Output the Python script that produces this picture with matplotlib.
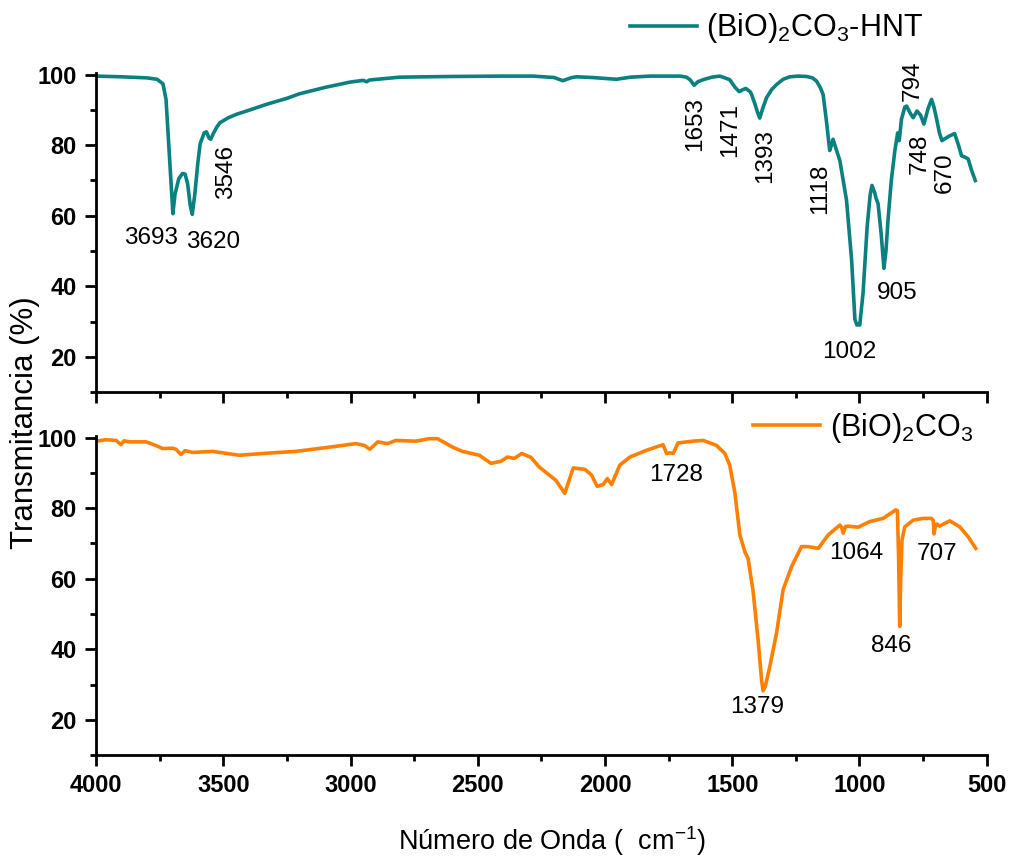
import matplotlib.pyplot as plt
from matplotlib.ticker import MultipleLocator

plt.rcParams["font.family"] = ["Liberation Sans", "DejaVu Sans"]
plt.rcParams["mathtext.default"] = "regular"

# (BiO)2CO3-HNT spectrum (wavenumber, transmittance)
wn_hnt = [4000, 3900, 3800, 3760, 3737, 3725, 3710, 3698, 3690, 3675, 3660, 3650,
          3640, 3630, 3622, 3612, 3600, 3591, 3575, 3566, 3556, 3549, 3540, 3525,
          3513, 3480, 3447, 3400, 3330, 3250, 3200, 3100, 3002, 2950, 2937, 2925, 2806,
          2600, 2400, 2283, 2200, 2166, 2130, 2112, 2050, 1955, 1900, 1822, 1705,
          1680, 1665, 1650, 1635, 1614, 1580, 1549, 1510, 1490, 1473, 1460, 1447,
          1430, 1424, 1410, 1400, 1392, 1380, 1365, 1345, 1326, 1300, 1274, 1240,
          1208, 1185, 1169, 1155, 1143, 1130, 1117, 1108, 1104, 1090, 1077, 1051,
          1031, 1018, 1010, 1005, 999, 986, 970, 958, 951, 940, 935, 927, 915, 904,
          896, 888, 875, 861, 850, 844, 835, 822, 815, 800, 789, 774, 760, 747, 730,
          717, 708, 698, 686, 676, 650, 626, 610, 599, 585, 573, 560, 545]
t_hnt = [99.6, 99.4, 99.1, 98.7, 97.4, 93.0, 75.0, 60.6, 66.0, 70.5, 72.0, 71.8,
         69.0, 63.0, 60.4, 66.0, 75.0, 80.4, 83.5, 83.8, 82.0, 81.7, 83.2, 85.2,
         86.4, 87.8, 88.8, 89.9, 91.6, 93.3, 94.6, 96.4, 97.9, 98.4, 98.0, 98.5, 99.3,
         99.5, 99.6, 99.6, 99.2, 98.3, 99.2, 99.4, 99.2, 98.7, 99.3, 99.6, 99.6,
         99.3, 98.5, 97.0, 98.0, 98.6, 99.3, 99.6, 98.6, 96.5, 95.2, 95.7, 96.1,
         95.2, 94.4, 91.5, 89.2, 87.7, 90.5, 93.5, 95.8, 97.2, 98.7, 99.4, 99.6,
         99.5, 99.1, 98.2, 96.5, 94.4, 86.9, 78.5, 80.5, 81.7, 78.5, 75.6, 64.4,
         47.5, 30.6, 29.0, 29.3, 29.0, 38.1, 56.8, 66.0, 68.6, 66.5, 65.0, 63.4,
         55.0, 45.1, 50.0, 58.7, 70.0, 78.5, 83.5, 81.3, 87.4, 90.8, 91.1, 89.0,
         87.8, 89.7, 88.5, 86.0, 90.5, 93.0, 91.0, 87.8, 83.5, 81.3, 82.5, 83.3,
         79.8, 77.0, 76.6, 76.1, 73.0, 70.0]

# (BiO)2CO3 spectrum
wn_bio = [4000, 3960, 3921, 3902, 3890, 3869, 3804, 3784, 3760, 3738, 3700, 3686,
          3666, 3650, 3620, 3542, 3437, 3345, 3214, 3083, 2979, 2946, 2924, 2893,
          2854, 2822, 2743, 2691, 2658, 2599, 2560, 2494, 2448, 2409, 2383, 2357,
          2327, 2291, 2259, 2193, 2158, 2125, 2079, 2053, 2031, 2007, 1991, 1974,
          1942, 1902, 1837, 1772, 1758, 1745, 1732, 1713, 1654, 1614, 1562, 1529,
          1510, 1490, 1470, 1450, 1438, 1418, 1398, 1385, 1379, 1370, 1352, 1326,
          1300, 1267, 1228, 1202, 1162, 1123, 1077, 1070, 1064, 1055, 1045, 1005,
          960, 907, 858, 851, 846, 842, 838, 833, 822, 789, 750, 717, 710, 707, 701,
          695, 685, 678, 645, 606, 573, 543]
t_bio = [99.0, 99.4, 99.2, 98.0, 99.1, 98.8, 98.8, 98.3, 97.6, 96.9, 97.0, 96.7,
         95.2, 96.3, 95.8, 96.1, 95.0, 95.5, 96.1, 97.3, 98.3, 97.8, 96.7, 98.8,
         98.3, 99.2, 99.0, 99.7, 99.7, 97.3, 96.1, 95.0, 92.7, 93.3, 94.5, 94.1,
         95.5, 94.4, 91.7, 87.9, 84.2, 91.4, 91.0, 89.4, 86.2, 86.7, 88.4, 86.7,
         92.2, 94.5, 96.4, 98.0, 95.5, 95.7, 95.5, 98.5, 99.0, 99.2, 97.8, 95.5,
         92.2, 84.5, 72.4, 67.5, 65.8, 56.4, 42.3, 31.5, 28.2, 29.5, 35.2, 44.6,
         56.9, 63.4, 69.1, 69.1, 68.6, 72.4, 75.2, 74.5, 72.9, 74.8, 74.9, 74.6,
         76.2, 77.1, 79.5, 79.3, 65.0, 46.5, 60.0, 71.0, 74.7, 76.6, 77.1, 77.1,
         76.5, 72.7, 75.2, 75.5, 74.9, 75.2, 76.4, 74.7, 71.9, 68.6]

# peak labels: text, wavenumber, transmittance, rotation
labels_hnt = [("3693", 3784, 53.7, 0), ("3620", 3540, 52.5, 0), ("3546", 3489, 72.3, 90),
              ("1653", 1645, 85.9, 90), ("1471", 1510, 84.4, 90), ("1393", 1370, 76.9, 90),
              ("1118", 1153, 67.6, 90), ("905", 853, 38.0, 0), ("1002", 1042, 21.5, 0),
              ("794", 791, 98.2, 90), ("748", 763, 77.6, 90), ("670", 665, 72.3, 90)]
labels_bio = [("1728", 1722, 89.4, 0), ("1379", 1401, 23.5, 0), ("1064", 1012, 67.2, 0),
              ("707", 696, 67.0, 0), ("846", 877, 41.0, 0)]

TEAL = "#0a8080"
ORANGE = "#ff8000"

fig = plt.figure(figsize=(10.11, 8.58), dpi=100)
ax1 = fig.add_axes([0.095, 0.543, 0.881, 0.372])
ax2 = fig.add_axes([0.095, 0.12, 0.881, 0.372], sharex=ax1)

ax1.plot(wn_hnt, t_hnt, color=TEAL, lw=2.6, label="(BiO)$_2$CO$_3$-HNT")
ax2.plot(wn_bio, t_bio, color=ORANGE, lw=2.6, label="(BiO)$_2$CO$_3$")

for ax, labs in ((ax1, labels_hnt), (ax2, labels_bio)):
    for txt, x, y, rot in labs:
        ax.text(x, y, txt, rotation=rot, ha="center", va="center", fontsize=17.5)
    ax.set_ylim(10, 100.5)
    ax.set_yticks([20, 40, 60, 80, 100], ["20", "40", "60", "80", "100"],
                  fontweight="bold", fontsize=17)
    ax.yaxis.set_minor_locator(MultipleLocator(10))
    ax.xaxis.set_minor_locator(MultipleLocator(250))
    for s in ("top", "right"):
        ax.spines[s].set_visible(False)
    for s in ("left", "bottom"):
        ax.spines[s].set_linewidth(2)
    ax.tick_params(which="major", direction="out", length=8, width=2, pad=6)
    ax.tick_params(which="minor", direction="out", length=4.5, width=2)

ax1.set_xlim(4000, 500)
ax2.set_xticks([4000, 3500, 3000, 2500, 2000, 1500, 1000, 500],
               ["4000", "3500", "3000", "2500", "2000", "1500", "1000", "500"],
               fontweight="bold", fontsize=17)
ax1.tick_params(axis="x", labelbottom=False)

ax1.legend(loc="center left", bbox_to_anchor=(0.623, 0.967), bbox_transform=fig.transFigure,
           frameon=False, fontsize=22, handlelength=2.2, handletextpad=0.3,
           borderpad=0, borderaxespad=0)
ax2.legend(loc="center left", bbox_to_anchor=(0.745, 0.5015), bbox_transform=fig.transFigure,
           frameon=False, fontsize=22, handlelength=2.2, handletextpad=0.3,
           borderpad=0, borderaxespad=0)

fig.text(0.025, 0.507, "Transmitancia (%)", rotation=90, ha="center", va="center", fontsize=22.5)
fig.text(0.546, 0.02, "Número de Onda (  cm$^{-1}$)", ha="center", va="center", fontsize=19.5)

fig.savefig("out.png", dpi=100)
